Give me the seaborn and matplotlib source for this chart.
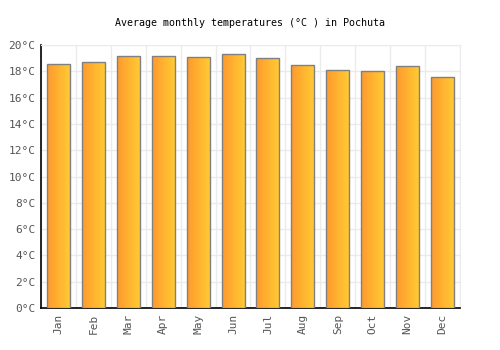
import matplotlib
matplotlib.use("Agg")
import matplotlib.pyplot as plt
import seaborn as sns
import pandas as pd
import numpy as np
from matplotlib.colors import LinearSegmentedColormap

months = ['Jan', 'Feb', 'Mar', 'Apr', 'May', 'Jun', 'Jul', 'Aug', 'Sep', 'Oct', 'Nov', 'Dec']
temps = [18.6, 18.7, 19.2, 19.2, 19.1, 19.3, 19.0, 18.5, 18.1, 18.0, 18.4, 17.6]

df = pd.DataFrame({'Month': months, 'Temp': temps})

sns.set_style("white")
plt.rcParams['font.family'] = ['DejaVu Sans Mono']

fig = plt.figure(figsize=(5, 3.5), dpi=100)
ax = fig.add_axes([0.082, 0.12, 0.838, 0.751])

sns.barplot(data=df, x='Month', y='Temp', color='#ffb030', width=0.66,
            edgecolor='#808080', linewidth=1.0, ax=ax, zorder=3)

# 橙到黄的横向渐变
cmap = LinearSegmentedColormap.from_list('og', ['#ff9a2e', '#ffcc33'])
grad = np.linspace(0, 1, 64).reshape(1, -1)
for bar in ax.patches:
    x0, y0 = bar.get_x(), bar.get_y()
    w, h = bar.get_width(), bar.get_height()
    im = ax.imshow(grad, cmap=cmap, aspect='auto', extent=[x0, x0 + w, y0, y0 + h],
                   zorder=3.5, interpolation='bicubic')
    im.set_clip_path(bar)
    bar.set_facecolor('none')
    bar.set_zorder(4)

ax.set_xlim(-0.5, 11.5)
ax.set_ylim(0, 20)
ax.set_yticks(range(0, 21, 2))
ax.set_yticklabels([f'{v}°C' for v in range(0, 21, 2)])
ax.set_xlabel('')
ax.set_ylabel('')
ax.set_title('Average monthly temperatures (°C ) in Pochuta', fontsize=7.2,
             color='black', pad=14)

# 网格
ax.set_xticks(np.arange(-0.5, 12, 1), minor=True)
ax.grid(axis='y', which='major', color='#ebebeb', linewidth=1, zorder=0)
ax.grid(axis='x', which='minor', color='#ebebeb', linewidth=1, zorder=0)
ax.set_xticks(range(12))
ax.set_xticklabels(months, rotation=90)
ax.tick_params(axis='both', which='both', length=0, labelsize=8, colors='#555555', pad=4)

for side in ['top', 'right']:
    ax.spines[side].set_color('#ebebeb')
for side in ['left', 'bottom']:
    ax.spines[side].set_color('black')
    ax.spines[side].set_linewidth(1.2)

fig.savefig('out.png', dpi=100)
